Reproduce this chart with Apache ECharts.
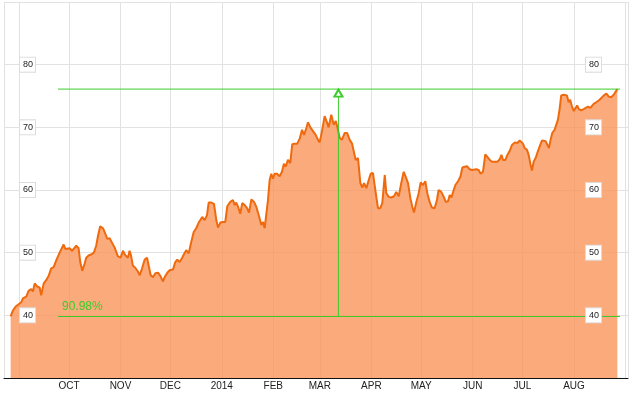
<!DOCTYPE html>
<html>
<head>
<meta charset="utf-8">
<script src="https://cdn.jsdelivr.net/npm/echarts@6/dist/echarts.min.js"></script>
<style>
html,body{margin:0;padding:0;background:#fff;}
#chart{width:630px;height:393px;}
</style>
</head>
<body>
<div id="chart"></div>
<script>
// Day offsets since 2013-08-26 (calendar days) and closing prices
var startDate = [2013, 7, 26];
var dayOffsets = [
0.9,2.3,4.3,7.3,8.3,10.3,11.7,13.3,14.3,15.4,
16.9,18.4,19.3,20.8,22.3,23.8,25.3,26.8,28.4,30.4,
32.8,33.8,35.0,36.4,37.8,39.0,40.4,41.8,42.8,44.0,
45.5,46.4,48.0,49.4,51.0,52.4,53.5,54.8,56.5,57.9,
59.1,60.5,61.9,63.5,65.5,67.1,68.5,69.9,
71.5,72.5,73.3,74.5,75.9,77.5,78.6,80.0,81.6,83.0,
84.2,85.2,86.6,88.0,89.6,91.0,92.6,93.6,95.2,96.6,
98.6,100.0,101.2,102.6,104.0,105.7,106.6,108.1,109.6,111.1,
112.6,114.1,115.3,116.2,117.7,119.1,120.1,121.7,123.3,124.7,
125.7,127.1,128.7,130.1,131.3,133.1,134.7,135.8,136.7,137.7,
139.1,140.3,141.8,143.2,144.4,145.8,147.4,148.8,150.2,151.8,
152.8,153.8,154.8,155.8,156.8,157.8,158.8,159.8,161.2,162.8,
164.2,165.4,166.5,167.8,169.2,170.4,171.9,173.4,174.9,176.3,
177.5,178.9,179.9,181.3,182.9,184.5,185.9,186.9,188.3,189.9,
191.3,192.3,193.9,195.4,196.6,197.5,199.0,200.3,202.0,203.4,
205.0,206.4,207.6,208.6,210.0,211.4,212.6,213.6,215.0,216.0,
217.6,219.0,220.4,222.0,223.4,224.6,226.1,227.0,228.5,230.0,
231.7,233.0,234.5,236.0,237.5,238.7,240.1,241.5,242.7,243.7,
245.1,246.5,247.7,249.1,250.5,251.7,253.1,254.5,256.1,257.5,
258.5,260.1,261.6,262.8,264.2,265.2,266.2,267.6,268.6,270.2,
271.6,272.8,274.2,275.6,277.2,278.6,279.8,281.2,282.6,283.8,
285.2,286.6,287.8,289.3,290.7,292.3,293.9,295.3,296.3,297.3,
298.7,299.9,301.4,302.7,304.4,305.9,307.3,308.3,309.3,310.3,
311.7,312.7,313.9,314.7,315.7,316.9,318.3,319.7,320.7,321.9,
322.9,323.9,324.9,325.9,326.9,328.3,329.3,330.3,331.3,332.3,
333.7,334.7,335.7,336.8,337.7,338.7,339.9,340.9,341.9,342.9,
344.3,345.8,347.0,348.4,349.8,351.0,352.0,353.4,354.4,355.4,
356.4,358.0,359.5,360.9,362.4,363.9,365.1,366.1
];
var prices = [
39.85,40.8,41.5,42.1,42.7,43.0,43.9,44.2,43.8,45.1,
44.6,44.4,43.2,45.1,45.6,46.3,47.5,47.7,48.8,50.0,
51.3,50.6,50.5,50.7,50.3,50.1,51.1,50.7,48.5,47.1,
48.3,49.2,49.6,49.7,50.0,51.1,52.7,54.2,53.9,53.0,
52.2,52.3,51.6,50.8,49.4,49.2,50.3,49.6,
49.2,50.3,49.6,47.9,47.6,47.0,46.4,47.5,48.9,49.2,
49.1,46.4,46.1,46.7,46.8,46.3,45.4,46.1,46.8,47.2,
47.3,48.5,48.9,48.5,49.1,50.0,50.4,49.9,51.7,53.3,
53.9,54.8,55.3,55.7,55.2,56.0,58.0,58.0,57.8,55.2,
54.0,54.8,54.9,54.9,57.4,58.1,58.4,57.6,58.0,57.4,
56.2,57.9,57.6,57.1,56.4,58.5,58.1,57.3,56.0,54.4,
54.9,53.9,53.7,58.4,61.6,62.6,61.8,62.6,62.6,62.2,
62.9,64.2,63.7,64.8,64.3,67.3,67.4,67.4,68.2,69.6,
68.8,69.9,70.8,70.0,69.4,68.8,68.0,67.6,69.4,71.8,
70.8,70.0,72.0,70.4,71.0,70.1,68.3,68.0,69.1,69.1,
68.0,67.4,67.2,64.8,65.1,61.1,60.4,61.1,60.3,60.5,
62.6,62.7,60.0,57.1,57.1,57.9,62.4,59.5,58.9,58.8,
59.0,59.7,59.0,61.1,62.9,62.1,61.1,58.7,57.3,56.4,
58.1,59.5,61.2,60.8,61.4,59.5,58.1,57.2,57.1,58.4,
60.0,59.7,58.9,58.1,58.2,59.2,58.8,60.0,60.8,61.4,
62.1,63.6,63.7,63.8,63.3,63.2,62.9,63.3,63.2,62.6,
62.9,65.7,65.8,64.8,64.5,64.5,64.5,64.9,65.6,64.8,
64.8,65.6,66.3,67.2,67.6,67.5,67.9,68.0,67.4,66.7,
66.4,65.6,64.0,63.1,64.5,65.1,66.2,67.2,67.9,67.6,
67.8,67.5,66.7,68.0,69.1,69.6,69.9,71.2,72.8,75.1,
75.2,74.9,75.1,74.0,74.4,73.4,72.6,72.7,73.5,72.9,
72.7,72.9,72.9,73.3,73.1,73.4,73.8,74.0,73.9,74.4,
74.3,75.1,75.4,74.9,74.8,75.2,75.7,76.1
];
var yTicks = [30, 90, 10];            // min, max, interval
var axisRangeDays = [-3.1, 372.5];    // x-axis extent, days since start
var monthNames = ['2014','FEB','MAR','APR','MAY','JUN','JUL','AUG','','OCT','NOV','DEC'];
// Performance measure annotation
var measureStartDay = 29.4, measureMidDay = 198.2, measureEndDay = 367.7;
var lowPrice = 39.85, highPrice = 76.1;
var changeLabel = '90.98%';

var DAY = 86400000;
var t0 = new Date(startDate[0], startDate[1], startDate[2]).getTime();
function dayToTs(d){ return t0 + d * DAY; }

var n = Math.min(dayOffsets.length, prices.length);
var seriesData = [];
for (var i = 0; i < n; i++) seriesData.push([dayToTs(dayOffsets[i]), prices[i]]);

var green = '#3dcc2b';
var font = 'Liberation Sans, Arial, sans-serif';
var labelBox = {
  inside: true, fontSize: 9, color: '#222', fontFamily: font,
  backgroundColor: '#fff', borderColor: '#dcdcdc', borderWidth: 1, padding: [3, 2, 2, 3]
};

function guideSeries(data, extra) {
  return Object.assign({
    type: 'line', yAxisIndex: 0, data: data, z: 4, silent: true,
    symbol: 'none', showSymbol: false,
    lineStyle: {color: green, width: 1},
    itemStyle: {color: green},
    emphasis: {disabled: true}
  }, extra || {});
}

var chart = echarts.init(document.getElementById('chart'), null, {renderer: 'canvas'});
chart.setOption({
  animation: false,
  backgroundColor: '#fff',
  grid: {left: 4, right: 2, top: 2, bottom: 15, containLabel: false},
  xAxis: {
    type: 'time',
    min: dayToTs(axisRangeDays[0]),
    max: dayToTs(axisRangeDays[1]),
    splitNumber: 12,
    axisLine: {show: true, lineStyle: {color: '#111', width: 1}},
    axisTick: {show: false},
    splitLine: {show: true, lineStyle: {color: '#e2e2e2', width: 1}},
    axisLabel: {
      margin: 3, fontSize: 10, color: '#222', fontFamily: font,
      showMinLabel: false, showMaxLabel: false,
      formatter: function (val) {
        var d = new Date(val);
        if (d.getDate() !== 1) return '';
        var m = d.getMonth();
        if (m === 0) return String(d.getFullYear());
        return monthNames[m];
      }
    }
  },
  yAxis: [
    {
      type: 'value', min: yTicks[0], max: yTicks[1], interval: yTicks[2], position: 'left', z: 0,
      axisLine: {show: false}, axisTick: {show: false}, axisLabel: {show: false},
      splitLine: {show: true, lineStyle: {color: '#e2e2e2', width: 1}}
    },
    {
      type: 'value', min: yTicks[0], max: yTicks[1], interval: yTicks[2], position: 'left', z: 10,
      axisLine: {show: false}, axisTick: {show: false}, splitLine: {show: false},
      axisLabel: Object.assign({margin: 16, showMinLabel: false, showMaxLabel: false}, labelBox)
    },
    {
      type: 'value', min: yTicks[0], max: yTicks[1], interval: yTicks[2], position: 'right', z: 10,
      axisLine: {show: false}, axisTick: {show: false}, splitLine: {show: false},
      axisLabel: Object.assign({margin: 27, showMinLabel: false, showMaxLabel: false}, labelBox)
    }
  ],
  series: [
    {
      type: 'line',
      yAxisIndex: 0,
      data: seriesData,
      showSymbol: false,
      symbol: 'none',
      smooth: false,
      z: 2,
      lineStyle: {color: '#ef6a0e', width: 2},
      areaStyle: {color: 'rgb(250,150,90)', opacity: 0.8, origin: 'start'},
      markLine: {
        silent: true,
        symbol: ['none', 'none'],
        lineStyle: {color: green, width: 1, type: 'solid'},
        emphasis: {disabled: true},
        label: {show: true, position: 'insideStartTop', formatter: changeLabel, color: green, fontSize: 12, distance: 4, fontFamily: font},
        data: [
          [{coord: [dayToTs(measureStartDay), lowPrice]},
           {coord: [dayToTs(measureEndDay), lowPrice]}]
        ]
      }
    },
    guideSeries([[dayToTs(measureStartDay), highPrice], [dayToTs(measureEndDay), highPrice]]),
    guideSeries([
      [dayToTs(measureMidDay), lowPrice],
      {value: [dayToTs(measureMidDay), highPrice], symbol: 'emptyTriangle', symbolSize: [8, 7], symbolOffset: [0, 4]}
    ], {showSymbol: true, symbol: 'none', itemStyle: {color: green, borderColor: green, borderWidth: 1}})
  ]
});
</script>
</body>
</html>
